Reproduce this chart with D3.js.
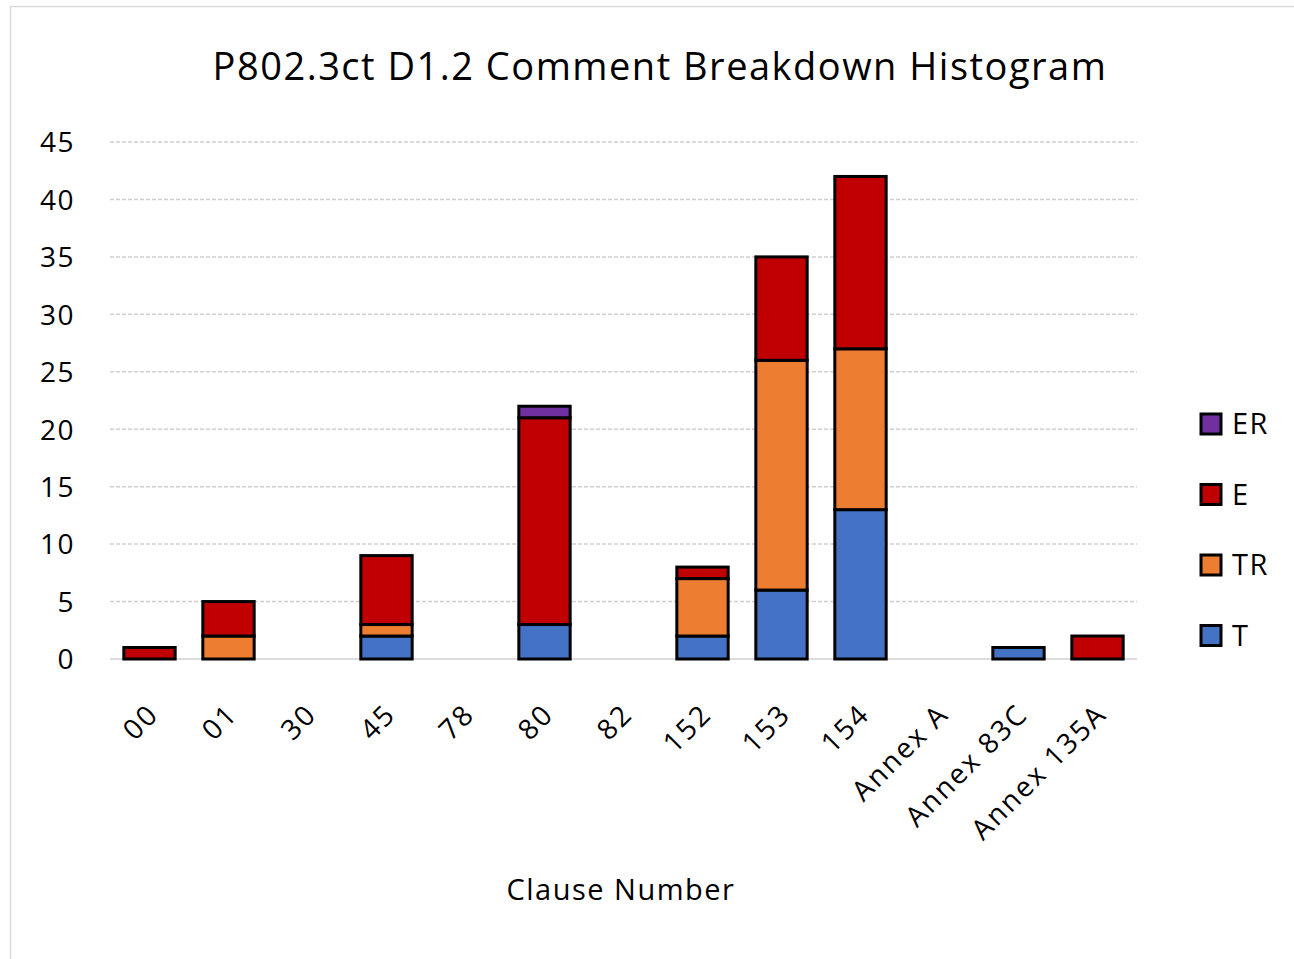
<!DOCTYPE html>
<html><head><meta charset="utf-8">
<script src="https://cdn.jsdelivr.net/npm/d3@7"></script>
<style>body{margin:0;background:#fff}svg{display:block}</style>
</head><body>
<script>
const categories = ["00","01","30","45","78","80","82","152","153","154","Annex A","Annex 83C","Annex 135A"];
const seriesT  = [0,0,0,2,0,3,0,2,6,13,0,1,0];
const seriesTR = [0,2,0,1,0,0,0,5,20,14,0,0,0];
const seriesE  = [1,3,0,6,0,18,0,1,9,15,0,0,2];
const seriesER = [0,0,0,0,0,1,0,0,0,0,0,0,0];
const seriesNames = ["T","TR","E","ER"];
const seriesColors = ["#4472C4","#ED7D31","#C00000","#7030A0"];
const yTicks = [0,5,10,15,20,25,30,35,40,45];
const titleText = "P802.3ct D1.2 Comment Breakdown Histogram";
const xTitle = "Clause Number";

const W=1294,H=959;
const font = "'Open Sans', sans-serif";
const svg=d3.select("body").append("svg").attr("width",W).attr("height",H);
svg.append("rect").attr("x",10.5).attr("y",6.5).attr("width",W).attr("height",H).attr("fill","#fff").attr("stroke","#d9d9d9").attr("stroke-width",1.5);

const pLeft=110,pRight=1137,pTop=142,pBottom=659;
const x=d3.scaleBand().domain(categories).range([pLeft,pRight]).paddingInner(0.35).paddingOuter(0.175);
const y=d3.scaleLinear().domain([0,45]).range([pBottom,pTop]);

// grid
svg.append("g").selectAll("line").data(yTicks).join("line")
  .attr("x1",pLeft).attr("x2",pRight).attr("y1",d=>y(d)).attr("y2",d=>y(d))
  .attr("stroke","#d0d0d0").attr("stroke-width",1.5).attr("stroke-dasharray",d=>d===0?null:"4,2");

// y axis labels
const yAxis=d3.axisLeft(y).tickValues(yTicks).tickSize(0).tickPadding(0);
const ya=svg.append("g").attr("transform",`translate(75,0)`).call(yAxis);
ya.select(".domain").remove();
ya.selectAll("text").attr("font-family",font).attr("font-size",28).attr("letter-spacing",1.5).attr("fill","#000").attr("dy","0.35em");

// stacked data
const rows=categories.map((c,i)=>({cat:c,T:seriesT[i],TR:seriesTR[i],E:seriesE[i],ER:seriesER[i]}));
const stack=d3.stack().keys(seriesNames)(rows);
stack.forEach((s,si)=>{
  svg.append("g").selectAll("rect").data(s.filter(d=>d[1]-d[0]>0)).join("rect")
    .attr("x",d=>x(d.data.cat)).attr("width",x.bandwidth())
    .attr("y",d=>y(d[1])).attr("height",d=>y(d[0])-y(d[1]))
    .attr("fill",seriesColors[si]).attr("stroke","#000").attr("stroke-width",3);
});

// x axis labels
const xAxis=d3.axisBottom(x).tickSize(0).tickPadding(0);
const xa=svg.append("g").attr("transform",`translate(0,${pBottom})`).call(xAxis);
xa.select(".domain").remove();
xa.selectAll("text").attr("font-family",font).attr("font-size",28).attr("letter-spacing",2.2).attr("fill","#000")
  .attr("text-anchor","end").attr("dy","0.35em")
  .attr("transform",function(){return "translate(4,50) rotate(-45)";});

// titles
svg.append("text").attr("x",660).attr("y",80).attr("text-anchor","middle")
  .attr("font-family",font).attr("font-size",38).attr("letter-spacing",1.5).attr("fill","#000").text(titleText);
svg.append("text").attr("x",621).attr("y",900).attr("text-anchor","middle")
  .attr("font-family",font).attr("font-size",29).attr("letter-spacing",1.5).attr("fill","#000").text(xTitle);

// legend
const legendOrder=[3,2,1,0];
const lg=svg.append("g");
legendOrder.forEach((si,k)=>{
  const cy=424+k*70.5;
  lg.append("rect").attr("x",1201).attr("y",cy-10).attr("width",20).attr("height",20)
    .attr("fill",seriesColors[si]).attr("stroke","#000").attr("stroke-width",3);
  lg.append("text").attr("x",1232).attr("y",cy).attr("dy","0.35em")
    .attr("font-family",font).attr("font-size",29).attr("letter-spacing",1.5).attr("fill","#000").text(seriesNames[si]);
});
</script>
</body></html>
